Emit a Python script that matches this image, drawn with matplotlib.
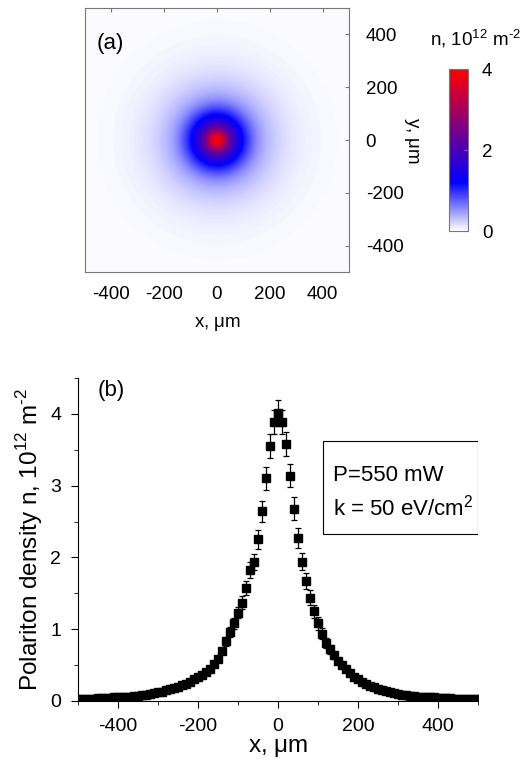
import numpy as np
import matplotlib.pyplot as plt
from matplotlib.colors import LinearSegmentedColormap
from matplotlib.patches import Rectangle

plt.rcParams['font.family'] = ['Liberation Sans', 'DejaVu Sans']
plt.rcParams['mathtext.fontset'] = 'custom'
plt.rcParams['mathtext.rm'] = 'Liberation Sans'
plt.rcParams['axes.unicode_minus'] = False

# positions along the cut, um
X_UM = list(range(-500, 510, 10))
# polariton density, 1e12 m^-2
DENSITY = [
    0.03, 0.03, 0.03, 0.03, 0.03, 0.04, 0.04, 0.04, 0.04, 0.05,
    0.05, 0.05, 0.06, 0.06, 0.07, 0.07, 0.08, 0.09, 0.10, 0.11,
    0.12, 0.13, 0.15, 0.16, 0.18, 0.20, 0.22, 0.24, 0.27, 0.30,
    0.33, 0.36, 0.40, 0.45, 0.51, 0.59, 0.70, 0.83, 0.96, 1.08,
    1.23, 1.37, 1.57, 1.82, 1.94, 2.25, 2.64, 3.10, 3.55, 3.89,
    4.01,
    3.89, 3.58, 3.14, 2.68, 2.27, 1.94, 1.67, 1.44, 1.25, 1.08,
    0.94, 0.81, 0.72, 0.64, 0.56, 0.50, 0.44, 0.39, 0.34, 0.30,
    0.27, 0.24, 0.21, 0.19, 0.17, 0.15, 0.14, 0.12, 0.11, 0.10,
    0.09, 0.08, 0.07, 0.07, 0.06, 0.06, 0.05, 0.05, 0.05, 0.04,
    0.04, 0.04, 0.04, 0.03, 0.03, 0.03, 0.03, 0.03, 0.03, 0.03,
]
ERR = [
    0.01, 0.01, 0.01, 0.01, 0.01, 0.01, 0.01, 0.01, 0.01, 0.01,
    0.01, 0.01, 0.01, 0.01, 0.01, 0.01, 0.01, 0.01, 0.01, 0.01,
    0.01, 0.01, 0.01, 0.01, 0.02, 0.02, 0.02, 0.02, 0.02, 0.02,
    0.02, 0.02, 0.03, 0.03, 0.03, 0.04, 0.05, 0.06, 0.07, 0.08,
    0.08, 0.09, 0.10, 0.11, 0.11, 0.13, 0.15, 0.16, 0.17, 0.17,
    0.18,
    0.17, 0.17, 0.16, 0.16, 0.14, 0.12, 0.11, 0.10, 0.09, 0.09,
    0.08, 0.07, 0.06, 0.05, 0.04, 0.04, 0.03, 0.03, 0.03, 0.02,
    0.02, 0.02, 0.02, 0.02, 0.01, 0.01, 0.01, 0.01, 0.01, 0.01,
    0.01, 0.01, 0.01, 0.01, 0.01, 0.01, 0.01, 0.01, 0.01, 0.01,
    0.01, 0.01, 0.01, 0.01, 0.01, 0.01, 0.01, 0.01, 0.01, 0.01,
]

x_arr = np.array(X_UM, dtype=float)
n_arr = np.array(DENSITY)

# radial profile for the 2D map: average of both halves of the cut
r_prof = x_arr[50:]
n_prof = (n_arr[50:] + n_arr[50::-1]) / 2.0
g = np.linspace(-500, 500, 401)
gx, gy = np.meshgrid(g, g)
nmap = np.interp(np.hypot(gx, gy), r_prof, n_prof, right=n_prof[-1])

cmap = LinearSegmentedColormap.from_list(
    'wbr', [(0.0, 'white'), (0.3, '#0000ff'), (1.0, '#ff0000')])

UNIT = r'n, 10$^{12}$ m$^{\text{-}2}$'

fig = plt.figure(figsize=(5.29, 7.63), dpi=100)

# (a) map
ax1 = fig.add_axes([0.1607, 0.6435, 0.499, 0.346])
im = ax1.imshow(nmap, extent=(-500, 500, -500, 500), origin='lower',
                cmap=cmap, vmin=0, vmax=4, interpolation='bilinear')
ax1.set_xlim(-500, 500)
ax1.set_ylim(-500, 500)
ax1.set_xticks([-400, -200, 0, 200, 400])
ax1.set_yticks([-400, -200, 0, 200, 400])
ax1.tick_params(top=True, right=True, bottom=False, left=False,
                labelbottom=True, labelright=True, labelleft=False,
                direction='in', length=3, color='#777777', labelsize=13.5)
ax1.tick_params(axis='x', pad=10)
ax1.tick_params(axis='y', pad=12)
for s in ax1.spines.values():
    s.set_color('#777777')
    s.set_linewidth(0.8)
ax1.set_xlabel(r'x, $\mathrm{\mu}$m', fontsize=13.5, labelpad=9)
ax1.yaxis.set_label_position('right')
ax1.set_ylabel(r'y, $\mathrm{\mu}$m', fontsize=13.5, rotation=270,
               labelpad=12)
ax1.text(0.045, 0.867, '(a)', transform=ax1.transAxes, fontsize=16,
         va='center')

cax = fig.add_axes([0.8488, 0.6972, 0.0359, 0.2123])
cb = fig.colorbar(im, cax=cax, ticks=[0, 2, 4])
cb.outline.set_edgecolor('#777777')
cb.outline.set_linewidth(0.8)
cax.tick_params(direction='in', length=3, color='#777777', labelsize=13.5,
                pad=10)
fig.text(0.899, 0.95, UNIT, fontsize=13.5, ha='center', va='center')

# (b) cut
ax2 = fig.add_axes([0.1474, 0.0813, 0.756, 0.4233])
ax2.errorbar(x_arr, n_arr, yerr=ERR, fmt='s', color='black',
             markersize=5.5, ecolor='black', elinewidth=0.9, capsize=2.5,
             capthick=0.9)
ax2.set_xlim(-500, 500)
ax2.set_ylim(0, 4.5)
ax2.set_xticks([-400, -200, 0, 200, 400])
ax2.set_xticks(range(-500, 501, 100), minor=True)
ax2.set_yticks([0, 1, 2, 3, 4])
ax2.set_yticks(np.arange(0, 4.6, 0.5), minor=True)
ax2.spines['top'].set_visible(False)
ax2.spines['right'].set_visible(False)
ax2.tick_params(which='major', direction='out', length=5, labelsize=14,
                pad=7)
ax2.tick_params(which='minor', direction='out', length=3)
ax2.set_xlabel(r'x, $\mathrm{\mu}$m', fontsize=17.5, labelpad=2)
ax2.set_ylabel('Polariton density ' + UNIT, fontsize=17.5, labelpad=4)
ax2.text(0.05, 0.96, '(b)', transform=ax2.transAxes, fontsize=16,
         va='center')
ax2.add_patch(Rectangle((0.6125, 0.517), 0.3875, 0.288,
                        transform=ax2.transAxes, facecolor='white',
                        edgecolor='black', linewidth=0.8, zorder=5))
ax2.text(0.6375, 0.697, 'P=550 mW', transform=ax2.transAxes,
         fontsize=16, va='center', ha='left', zorder=6)
ax2.text(0.6375, 0.598, 'k = 50 eV/cm$^2$', transform=ax2.transAxes,
         fontsize=16, va='center', ha='left', zorder=6)

fig.savefig('out.png', dpi=100)
